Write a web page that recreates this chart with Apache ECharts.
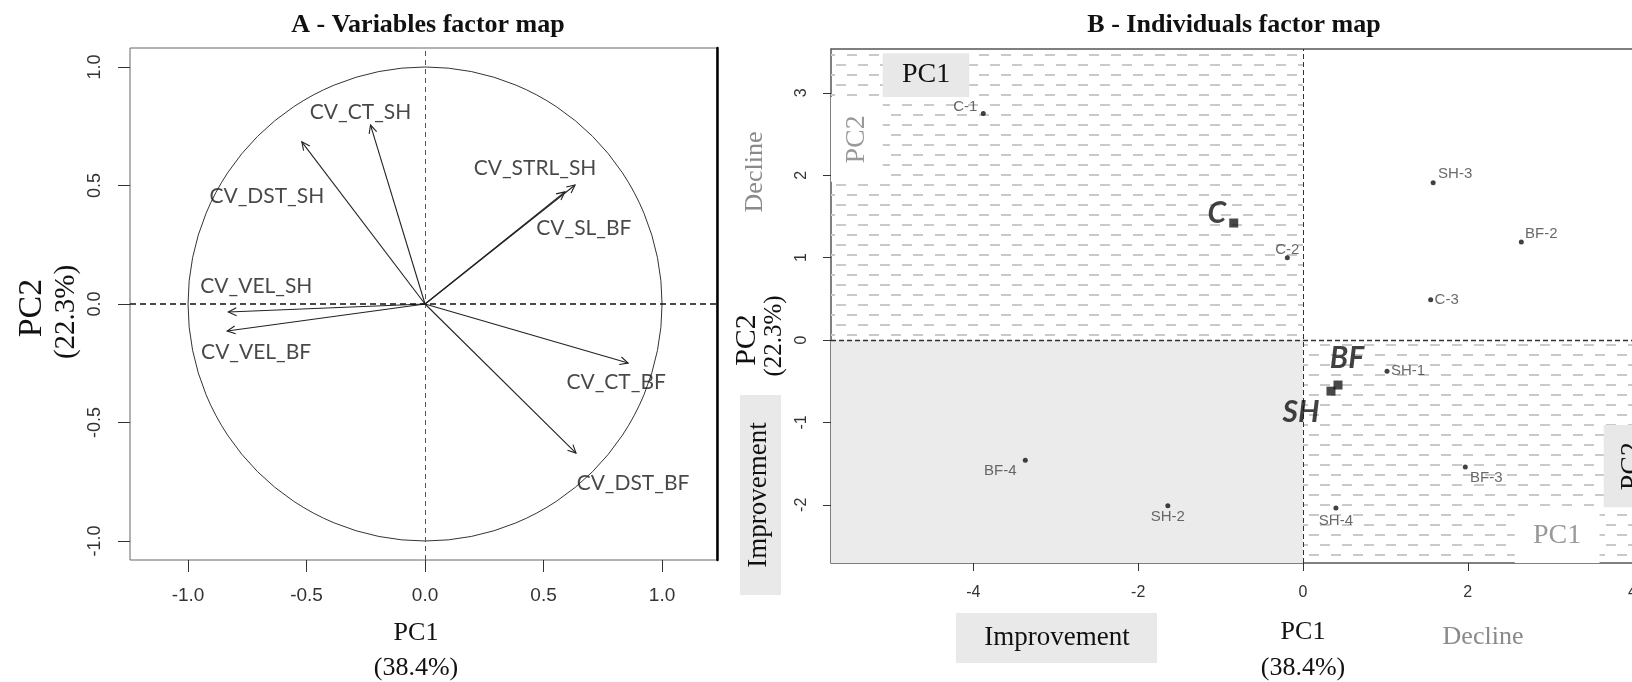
<!DOCTYPE html>
<html><head><meta charset="utf-8">
<script src="https://cdn.jsdelivr.net/npm/echarts@6/dist/echarts.min.js"></script>
<style>html,body{margin:0;padding:0;background:#fff;overflow:hidden;width:1632px;height:682px}#c{width:1700px;height:682px}</style>
</head><body><div id="c"></div>
<script>
// ---- Panel A: variables (loadings on PC1 / PC2) ----
const varNames = ['CV_CT_SH','CV_DST_SH','CV_STRL_SH','CV_SL_BF','CV_VEL_SH','CV_VEL_BF','CV_CT_BF','CV_DST_BF'];
const varPC1   = [-0.23, -0.52, 0.633, 0.59, -0.83, -0.835, 0.857, 0.637];
const varPC2   = [0.755, 0.684, 0.502, 0.473, -0.034, -0.114, -0.249, -0.629];
const ticksA   = [-1, -0.5, 0, 0.5, 1];

// ---- Panel B: individuals and group means ----
const indNames = ['C-1','C-2','C-3','SH-1','SH-2','SH-3','SH-4','BF-2','BF-3','BF-4'];
const indPC1   = [-3.88, -0.19, 1.55, 1.02, -1.64, 1.58, 0.40, 2.65, 1.97, -3.37];
const indPC2   = [2.75, 1.00, 0.49, -0.38, -2.01, 1.91, -2.04, 1.19, -1.54, -1.46];
const grpNames = ['C','BF','SH'];
const grpPC1   = [-0.84, 0.425, 0.34];
const grpPC2   = [1.42, -0.546, -0.62];
const ticksBx  = [-4, -2, 0, 2, 4];
const ticksBy  = [-2, -1, 0, 1, 2, 3];

// label offsets (pixels) - styling only
const varLabelOff = [[-10,-13],[-35,54],[-40,-17],[19,36],[28,-26],[29,21],[-12,19],[57,30]];
const indLabelOff = [[-18,-7],[0,-8],[16,0],[21,0],[0,11],[22,-9],[0,13],[20,-8],[21,11],[-25,11]];
const grpLabelOff = [[-17,-10],[9,-27],[-30,21]];

const SERIF = '"Liberation Serif", "Times New Roman", serif';
const SANS = '"Liberation Sans", Arial, sans-serif';
const CAL = 'Lato, "Open Sans", sans-serif';

// axis extents
const axA = {xmin:-1.245, xmax:1.232, ymin:-1.08, ymax:1.08};
const axB = {xmin:-5.728, xmax:4.6, ymin:-2.706, ymax:3.532};

function hatch(){
  const c = document.createElement('canvas'); c.width = 22; c.height = 20;
  const g = c.getContext('2d'); g.fillStyle = '#c9c9c9';
  g.fillRect(0,4,10,2); g.fillRect(11,14,10,2);
  return c;
}
const HATCH = {image: hatch(), repeat: 'repeat'};

const chart = echarts.init(document.getElementById('c'), null, {renderer:'canvas'});

function axisCommon(ticks, fs, margin, fmt, rotate){
  return {
    axisLine:{show:false, onZero:false},
    axisTick:{show:true, customValues:ticks, length: fs>17?12:8, lineStyle:{color:'#333'}},
    axisLabel:{show:true, customValues:ticks, fontFamily:SANS, fontSize:fs, color:'#333', margin:margin, rotate:rotate||0, formatter:fmt},
    splitLine:{show:false}
  };
}

const option = {
  animation:false,
  grid:[
    {left:130, top:48, width:587, height:512, show:true, borderColor:'#666', borderWidth:1, backgroundColor:'transparent'},
    {left:831, top:49, width:851, height:514, show:true, borderColor:'#555', borderWidth:1.5, backgroundColor:'transparent'}
  ],
  xAxis:[
    Object.assign({type:'value', gridIndex:0, min:axA.xmin, max:axA.xmax}, axisCommon(ticksA, 19, 26, v=>v.toFixed(1))),
    Object.assign({type:'value', gridIndex:1, min:axB.xmin, max:axB.xmax}, axisCommon(ticksBx, 16, 22, v=>String(v)))
  ],
  yAxis:[
    Object.assign({type:'value', gridIndex:0, min:axA.ymin, max:axA.ymax}, axisCommon(ticksA, 18, 26, v=>v.toFixed(1), 90)),
    Object.assign({type:'value', gridIndex:1, min:axB.ymin, max:axB.ymax}, axisCommon(ticksBy, 16, 21, v=>String(v), 90)),
    {type:'value', gridIndex:0, position:'right', min:axA.ymin, max:axA.ymax,
     axisLine:{show:true, onZero:false, lineStyle:{color:'#000', width:2.5}}, axisTick:{show:false}, axisLabel:{show:false}, splitLine:{show:false}}
  ],
  series:[
    // correlation circle
    {type:'custom', xAxisIndex:0, yAxisIndex:0, silent:true, z:2, data:[[0,0]],
     renderItem:function(p, api){
       const c = api.coord([0,0]); const s = api.size([1,1]);
       return {type:'circle', shape:{cx:c[0], cy:c[1], r:(s[0]+s[1])/2}, style:{fill:null, stroke:'#333', lineWidth:1}};
     },
     markLine:{silent:true, symbol:'none', label:{show:false},
       data:[
         {xAxis:0, lineStyle:{color:'#555', width:1, type:[5,4]}},
         {yAxis:0, lineStyle:{color:'#111', width:1.6, type:[6,4]}}
       ]}
    },
    // variable arrows
    {type:'custom', xAxisIndex:0, yAxisIndex:0, silent:true, z:3,
     data: varNames.map((n,i)=>[varPC1[i], varPC2[i]]),
     renderItem:function(p, api){
       const o = api.coord([0,0]); const t = api.coord([api.value(0), api.value(1)]);
       const a = Math.atan2(t[1]-o[1], t[0]-o[0]); const L = 9, s = 0.45;
       const p1 = [t[0]-L*Math.cos(a-s), t[1]-L*Math.sin(a-s)];
       const p2 = [t[0]-L*Math.cos(a+s), t[1]-L*Math.sin(a+s)];
       return {type:'group', children:[
         {type:'line', shape:{x1:o[0], y1:o[1], x2:t[0], y2:t[1]}, style:{stroke:'#222', lineWidth:1.1}},
         {type:'polyline', shape:{points:[p1, t, p2]}, style:{stroke:'#222', fill:null, lineWidth:1.1}}
       ]};
     }
    },
    // variable labels
    {type:'scatter', xAxisIndex:0, yAxisIndex:0, silent:true, z:4, symbolSize:0,
     data: varNames.map((n,i)=>({name:n, value:[varPC1[i], varPC2[i]],
       label:{show:true, position:'inside', offset:varLabelOff[i], formatter:n, fontFamily:CAL, fontSize:21, color:'#1a1a1a'}}))
    },
    // panel B backgrounds
    {type:'scatter', xAxisIndex:1, yAxisIndex:1, silent:true, z:1, data:[],
     markArea:{silent:true, z:1, data:[
       [{xAxis:axB.xmin, yAxis:0, itemStyle:{color:HATCH}}, {xAxis:0, yAxis:axB.ymax}],
       [{xAxis:axB.xmin, yAxis:axB.ymin, itemStyle:{color:'#ebebeb'}}, {xAxis:0, yAxis:0}],
       [{xAxis:0, yAxis:axB.ymin, itemStyle:{color:HATCH}}, {xAxis:axB.xmax, yAxis:0}],
       [{xAxis:-5.10, yAxis:3.48, itemStyle:{color:'#e8e8e8'},
         label:{show:true, position:'inside', formatter:'PC1', fontFamily:SERIF, fontSize:28, color:'#111'}}, {xAxis:-4.05, yAxis:2.95}],
       [{xAxis:axB.xmin, yAxis:2.95, itemStyle:{color:'#fff'},
         label:{show:true, position:'inside', rotate:90, formatter:'PC2', fontFamily:SERIF, fontSize:28, color:'#999'}}, {xAxis:-5.10, yAxis:1.92}],
       [{xAxis:2.57, yAxis:-2.03, itemStyle:{color:'#fff'},
         label:{show:true, position:'inside', formatter:'PC1', fontFamily:SERIF, fontSize:28, color:'#999'}}, {xAxis:3.60, yAxis:axB.ymin}],
       [{xAxis:3.65, yAxis:-1.03, itemStyle:{color:'#e8e8e8'},
         label:{show:true, position:'inside', rotate:90, formatter:'PC2', fontFamily:SERIF, fontSize:28, color:'#111'}}, {xAxis:4.33, yAxis:-2.03}]
     ]},
     markLine:{silent:true, symbol:'none', label:{show:false}, z:3,
       data:[
         {xAxis:0, lineStyle:{color:'#333', width:1, type:[5,3]}},
         {yAxis:0, lineStyle:{color:'#333', width:1.3, type:[5,3]}}
       ]}
    },
    // individuals
    {type:'scatter', xAxisIndex:1, yAxisIndex:1, silent:true, z:5, symbol:'circle', symbolSize:5,
     itemStyle:{color:'#111'},
     data: indNames.map((n,i)=>({name:n, value:[indPC1[i], indPC2[i]],
       label:{show:true, position:'inside', offset:indLabelOff[i], formatter:n, fontFamily:SANS, fontSize:15, color:'#444'}}))
    },
    // group means
    {type:'scatter', xAxisIndex:1, yAxisIndex:1, silent:true, z:6, symbol:'rect', symbolSize:9,
     itemStyle:{color:'#1a1a1a'},
     data: grpNames.map((n,i)=>({name:n, value:[grpPC1[i], grpPC2[i]],
       label:{show:true, position:'inside', offset:grpLabelOff[i], formatter:n, fontFamily:CAL, fontSize:30, fontWeight:'bold', fontStyle:'italic', color:'#111'}}))
    }
  ],
  graphic:[
    {type:'text', x:428, y:25, z:10, style:{text:'A - Variables factor map', font:'bold 26px '+SERIF, fill:'#111', align:'center', verticalAlign:'middle'}},
    {type:'text', x:1234, y:25, z:10, style:{text:'B - Individuals factor map', font:'bold 26px '+SERIF, fill:'#111', align:'center', verticalAlign:'middle'}},
    {type:'text', x:32, y:308, rotation:Math.PI/2, style:{text:'PC2', font:'34px '+SERIF, fill:'#111', align:'center', verticalAlign:'middle'}},
    {type:'text', x:66, y:312, rotation:Math.PI/2, style:{text:'(22.3%)', font:'29px '+SERIF, fill:'#111', align:'center', verticalAlign:'middle'}},
    {type:'text', x:416, y:633, style:{text:'PC1', font:'26px '+SERIF, fill:'#111', align:'center', verticalAlign:'middle'}},
    {type:'text', x:416, y:668, style:{text:'(38.4%)', font:'26px '+SERIF, fill:'#111', align:'center', verticalAlign:'middle'}},
    {type:'text', x:755, y:172, rotation:Math.PI/2, style:{text:'Decline', font:'26px '+SERIF, fill:'#8a8a8a', align:'center', verticalAlign:'middle'}},
    {type:'text', x:747, y:340, rotation:Math.PI/2, style:{text:'PC2', font:'30px '+SERIF, fill:'#111', align:'center', verticalAlign:'middle'}},
    {type:'text', x:774, y:336, rotation:Math.PI/2, style:{text:'(22.3%)', font:'25px '+SERIF, fill:'#111', align:'center', verticalAlign:'middle'}},
    {type:'rect', shape:{x:740, y:395, width:41, height:200}, style:{fill:'#e9e9e9'}},
    {type:'text', x:759, y:495, rotation:Math.PI/2, z:10, style:{text:'Improvement', font:'27px '+SERIF, fill:'#111', align:'center', verticalAlign:'middle'}},
    {type:'rect', shape:{x:956, y:613, width:201, height:50}, style:{fill:'#e9e9e9'}},
    {type:'text', x:1057, y:638, z:10, style:{text:'Improvement', font:'27px '+SERIF, fill:'#111', align:'center', verticalAlign:'middle'}},
    {type:'text', x:1303, y:632, style:{text:'PC1', font:'26px '+SERIF, fill:'#111', align:'center', verticalAlign:'middle'}},
    {type:'text', x:1303, y:668, style:{text:'(38.4%)', font:'26px '+SERIF, fill:'#111', align:'center', verticalAlign:'middle'}},
    {type:'text', x:1483, y:637, style:{text:'Decline', font:'26px '+SERIF, fill:'#8a8a8a', align:'center', verticalAlign:'middle'}}
  ]
};
chart.setOption(option);
</script></body></html>
